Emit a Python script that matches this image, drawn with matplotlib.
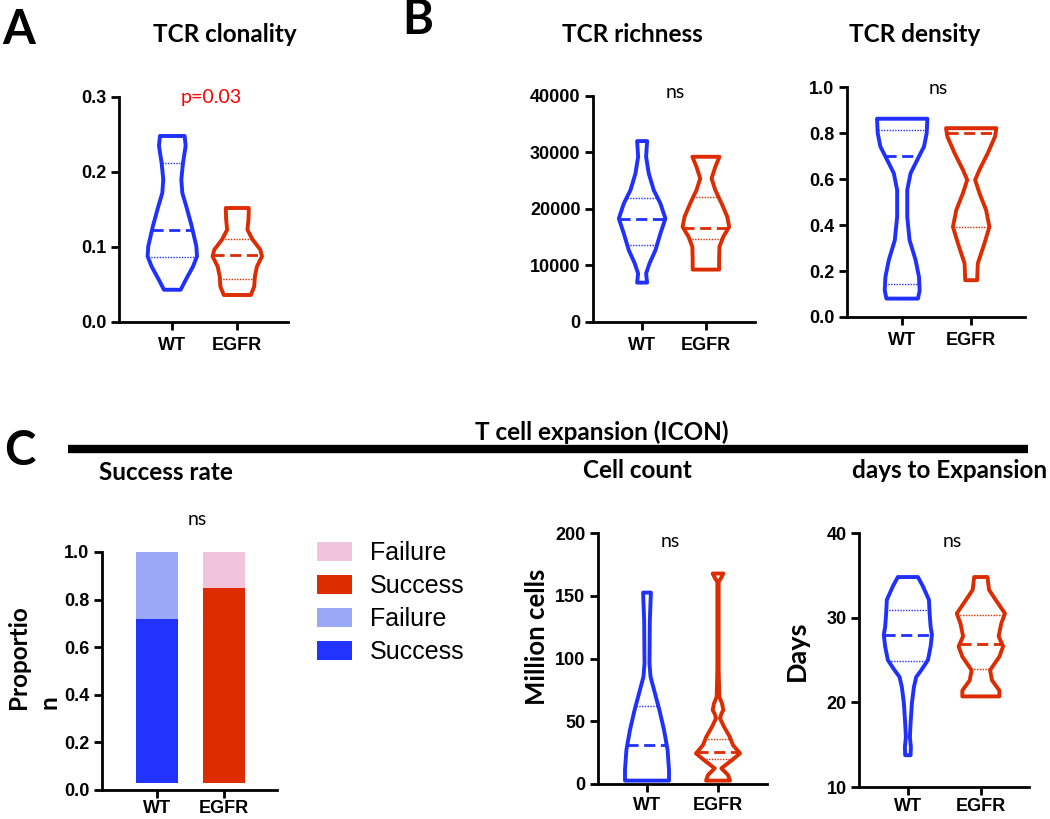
import matplotlib
matplotlib.use('Agg')
import matplotlib.pyplot as plt
from matplotlib.lines import Line2D
import numpy as np

W, H = 1050, 819

blue = '#1f30ff'
red = '#dc2c00'
groups = ['WT', 'EGFR']

# violin outlines: level, relative half-width, and (Q1, median, Q3)
clon_wt_y = [0.043, 0.056, 0.074, 0.0875, 0.101, 0.128, 0.154, 0.172, 0.190, 0.212, 0.235, 0.248]
clon_wt_w = [25, 40, 62, 74, 72, 58, 42, 30, 27, 32, 40, 37]
clon_wt_q = [0.087, 0.122, 0.212]
clon_eg_y = [0.036, 0.0473, 0.0607, 0.074, 0.0875, 0.0964, 0.110, 0.123, 0.1365, 0.152]
clon_eg_w = [40, 50, 52, 58, 73, 68, 45, 30, 33, 34]
clon_eg_q = [0.057, 0.089, 0.111]

rich_wt_y = [6971, 8567, 10339, 12702, 15656, 18315, 20973, 23337, 26290, 29245, 32022]
rich_wt_w = [15, 12, 22, 40, 55, 70, 55, 35, 20, 12, 15]
rich_wt_q = [13700, 18200, 21980]
rich_eg_y = [9275, 10930, 13293, 15065, 16838, 18610, 20973, 23337, 25404, 27472, 29245]
rich_eg_w = [42, 42, 43, 55, 74, 68, 50, 30, 18, 30, 43]
rich_eg_q = [14650, 16720, 22155]

dens_wt_y = [0.080, 0.116, 0.174, 0.247, 0.334, 0.436, 0.552, 0.625, 0.698, 0.741, 0.800, 0.862]
dens_wt_w = [47, 52, 50, 40, 22, 15, 15, 25, 50, 65, 73, 75]
dens_wt_q = [0.145, 0.700, 0.814]
dens_eg_y = [0.160, 0.233, 0.320, 0.392, 0.465, 0.538, 0.596, 0.640, 0.712, 0.785, 0.821]
dens_eg_w = [18, 20, 40, 55, 45, 25, 12, 25, 50, 72, 76]
dens_eg_q = [0.392, 0.802, 0.818]

cell_wt_y = [2.7, 11.1, 27.1, 43.0, 58.9, 74.8, 85.4, 96.0, 130.5, 152.5]
cell_wt_w = [62, 62, 58, 48, 35, 20, 10, 7, 8, 11]
cell_wt_q = [3.2, 30.8, 62.0]
cell_eg_y = [2.7, 7.2, 12.5, 19.1, 24.4, 31.0, 37.7, 45.6, 52.3, 56.0, 58.9, 64.2, 69.5,
             90.7, 117.3, 143.8, 161.0, 164.5, 167.7]
cell_eg_w = [36, 30, 10, 42, 66, 45, 35, 18, 6, 10, 16, 12, 4, 2, 2, 2, 2, 10, 16]
cell_eg_q = [19.6, 25.7, 35.5]

days_wt_y = [13.75, 14.7, 15.9, 17.5, 19.9, 21.8, 23.0, 23.8, 25.0, 26.6, 28.0, 28.9, 30.5, 32.1, 33.7, 34.8]
days_wt_w = [8, 9, 6, 8, 12, 18, 25, 40, 60, 68, 72, 68, 65, 63, 45, 30]
days_wt_q = [24.9, 28.0, 30.9]
days_eg_y = [20.7, 21.4, 22.6, 23.8, 25.4, 26.6, 27.8, 29.3, 30.5, 32.1, 33.3, 34.8]
days_eg_w = [50, 50, 30, 25, 50, 60, 48, 55, 65, 40, 22, 18]
days_eg_q = [23.9, 26.9, 30.3]

# success rate (stacked proportions)
success = [0.72, 0.85]
bar_base = 0.03
legend_labels = ['Failure', 'Success', 'Failure', 'Success']

plt.rcParams['font.family'] = ['Liberation Sans', 'DejaVu Sans']
title_font = 'Lato'

fig = plt.figure(figsize=(W / 100, H / 100), dpi=100)


def px_axes(left, top, right, bottom):
    return fig.add_axes([left / W, 1 - bottom / H, (right - left) / W, (bottom - top) / H])


def style(ax, ylim, yticks, xlim, xpad=5):
    ax.spines[['top', 'right']].set_visible(False)
    for s in ('left', 'bottom'):
        ax.spines[s].set_linewidth(2)
    ax.set_xlim(xlim)
    ax.set_ylim(ylim)
    ax.set_yticks(yticks)
    ax.set_xticks([0, 1], groups)
    ax.tick_params(width=2, length=6, labelsize=13)
    ax.tick_params(axis='x', pad=xpad)
    ax.tick_params(axis='y', pad=3)
    for lab in ax.get_xticklabels() + ax.get_yticklabels():
        lab.set_fontweight('bold')
    ax.patch.set_visible(False)


def violins(ax, data, width):
    stats = []
    for y, w, q in data:
        stats.append(dict(coords=np.array(y), vals=np.array(w, float), mean=q[1],
                          median=q[1], min=min(y), max=max(y)))
    parts = ax.violin(stats, positions=[0, 1], widths=width, showextrema=False)
    for pos, body, c, (y, w, q) in zip([0, 1], parts['bodies'], [blue, red], data):
        body.set_facecolor('none')
        body.set_edgecolor(c)
        body.set_linewidth(2.8)
        body.set_alpha(1)
        body.set_joinstyle('round')
        for k, qv in enumerate(q):
            hw = np.interp(qv, y, w) / max(w) * width / 2
            if k == 1:
                ax.hlines(qv, pos - hw, pos + hw, color=c, lw=2, linestyles=(0, (4, 2)))
            else:
                ax.hlines(qv, pos - hw, pos + hw, color=c, lw=1, linestyles=(0, (1, 1)))


def ftext(x, y, s, **kw):
    fig.text(x / W, 1 - y / H, s, **kw)


def title(x, y, s, size=17.5):
    ftext(x, y, s, ha='center', va='baseline', fontsize=size, fontweight='bold', family=title_font)


def note(x, y, s, color='black'):
    ftext(x, y, s, ha='center', va='baseline', fontsize=14, family=title_font, color=color)


# A
ax = px_axes(119, 97, 288, 322)
violins(ax, [(clon_wt_y, clon_wt_w, clon_wt_q), (clon_eg_y, clon_eg_w, clon_eg_q)], 0.76)
style(ax, (0, 0.3), [0, 0.1, 0.2, 0.3], (-0.82, 1.78))
ax.set_yticklabels(['0.0', '0.1', '0.2', '0.3'], fontweight='bold')

# B richness
ax = px_axes(593, 96, 755, 322)
violins(ax, [(rich_wt_y, rich_wt_w, rich_wt_q), (rich_eg_y, rich_eg_w, rich_eg_q)], 0.73)
style(ax, (0, 40000), [0, 10000, 20000, 30000, 40000], (-0.77, 1.77))

# B density
ax = px_axes(847, 87, 1025, 317)
violins(ax, [(dens_wt_y, dens_wt_w, dens_wt_q), (dens_eg_y, dens_eg_w, dens_eg_q)], 0.73)
style(ax, (0, 1.0), [0, 0.2, 0.4, 0.6, 0.8, 1.0], (-0.8, 1.78))
ax.set_yticklabels(['0.0', '0.2', '0.4', '0.6', '0.8', '1.0'], fontweight='bold')

# C success rate
ax = px_axes(102, 552, 277, 790)
failure = [1 - s for s in success]
b1 = ax.bar([0], [success[0] - bar_base], bottom=bar_base, width=0.64, color='#2233ff')
b2 = ax.bar([0], [failure[0]], bottom=success[0], width=0.64, color='#99a8f7')
b3 = ax.bar([1], [success[1] - bar_base], bottom=bar_base, width=0.64, color='#dc2c00')
b4 = ax.bar([1], [failure[1]], bottom=success[1], width=0.64, color='#f2c4dc')
style(ax, (0, 1.0), [0, 0.2, 0.4, 0.6, 0.8, 1.0], (-0.82, 1.79), xpad=1.5)
ax.set_yticklabels(['0.0', '0.2', '0.4', '0.6', '0.8', '1.0'], fontweight='bold')
ax.legend([b4, b3, b2, b1], legend_labels, loc='upper left', bbox_to_anchor=(317 / W, 1 - 541 / H),
          bbox_transform=fig.transFigure, frameon=False, fontsize=18, handlelength=1.4,
          handleheight=0.8, handletextpad=0.7, labelspacing=0.36, borderpad=0, borderaxespad=0)

# C cell count
ax = px_axes(598, 533, 767, 784)
violins(ax, [(cell_wt_y, cell_wt_w, cell_wt_q), (cell_eg_y, cell_eg_w, cell_eg_q)], 0.62)
style(ax, (0, 200), [0, 50, 100, 150, 200], (-0.69, 1.69), xpad=3)

# C days
ax = px_axes(859, 533, 1029, 787)
violins(ax, [(days_wt_y, days_wt_w, days_wt_q), (days_eg_y, days_eg_w, days_eg_q)], 0.66)
style(ax, (10, 40), [10, 20, 30, 40], (-0.67, 1.66), xpad=2)

# panel letters
ftext(2, 44, 'A', fontsize=34, fontweight='bold', family=title_font, va='baseline')
ftext(402, 34, 'B', fontsize=34, fontweight='bold', family=title_font, va='baseline')
ftext(4, 465, 'C', fontsize=34, fontweight='bold', family=title_font, va='baseline')

# titles
title(225, 42, 'TCR clonality')
title(632, 42, 'TCR richness')
title(915, 42, 'TCR density')
title(602, 440, 'T cell expansion (ICON)')
title(166, 480, 'Success rate')
title(637, 478, 'Cell count')
title(950, 478, 'days to Expansion')

fig.add_artist(Line2D([68 / W, 1028 / W], [1 - 448.5 / H] * 2, lw=6, color='black',
                      solid_capstyle='butt'))

# significance
note(211, 103, 'p=0.03', color='#ff0000')
note(675, 98, 'ns')
note(938, 94, 'ns')
note(197, 525, 'ns')
note(670, 547, 'ns')
note(952, 547, 'ns')

# axis labels
ftext(34, 657, 'Proportio\nn', rotation=90, ha='center', va='center', multialignment='left',
      fontsize=17.5, fontweight='bold', family=title_font, linespacing=1.4)
ftext(537, 637, 'Million cells', rotation=90, ha='center', va='center',
      fontsize=18.5, fontweight='bold', family=title_font)
ftext(797, 651, 'Days', rotation=90, ha='center', va='center',
      fontsize=19.5, fontweight='bold', family=title_font)

fig.savefig('out.png', dpi=100)
